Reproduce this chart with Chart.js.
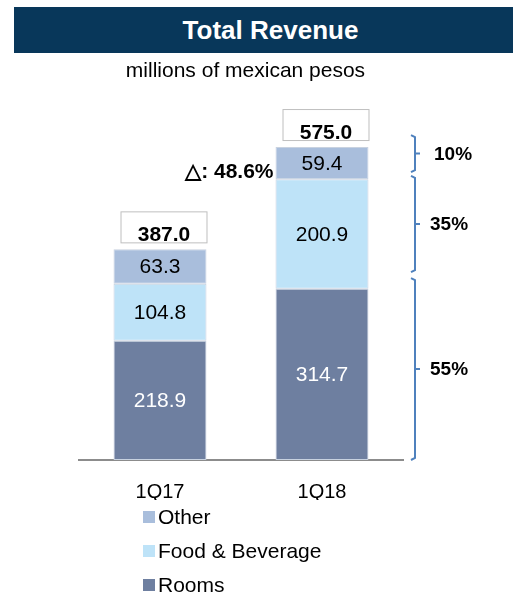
<!DOCTYPE html>
<html>
<head>
<meta charset="utf-8">
<script src="https://cdn.jsdelivr.net/npm/chart.js@4"></script>
<style>
  html, body { margin: 0; padding: 0; background: #fff; }
  body { width: 513px; height: 592px; position: relative; overflow: hidden; font-family: "Liberation Sans", Arial, sans-serif; }
  #banner { position: absolute; left: 14px; top: 7px; width: 499px; height: 46px; background: #08375A; color: #fff;
    font-weight: bold; font-size: 26px; line-height: 47px; text-align: center; padding-left: 14px; box-sizing: border-box; }
  #sub { position: absolute; left: 0; top: 58px; width: 513px; text-align: center; font-size: 21px; color: #000; box-sizing: border-box; padding-right: 22px; }
  #wrap { position: absolute; left: 0; top: 0; width: 513px; height: 592px; }
</style>
</head>
<body>
<div id="wrap"><canvas id="revChart" width="513" height="592"></canvas></div>
<div id="banner">Total Revenue</div>
<div id="sub">millions of mexican pesos</div>
<script>
const quarters = ['1Q17', '1Q18'];
const rooms = [218.9, 314.7];
const foodBev = [104.8, 200.9];
const other = [63.3, 59.4];
const totals = [387.0, 575.0];
const growthText = '\u25B3: 48.6%';
const mixLabels = ['10%', '35%', '55%'];
const mixRanges = [[529, 597], [345, 522], [0, 334]];

const FONT = '"Liberation Sans", Arial, sans-serif';

// labels inside segments, total boxes, growth note, mix brackets, legend
const extras = {
  id: 'extras',
  afterDatasetsDraw(chart) {
    const c = chart.ctx;
    const y = chart.scales.y;
    c.save();
    c.textAlign = 'center';
    c.textBaseline = 'middle';
    chart.data.datasets.forEach((ds, i) => {
      chart.getDatasetMeta(i).data.forEach((bar, j) => {
        c.font = '21px ' + FONT;
        c.fillStyle = ds.labelColor;
        c.fillText(ds.data[j].toFixed(1), bar.x, (bar.y + bar.base) / 2 + 1);
      });
    });
    // total boxes
    const meta = chart.getDatasetMeta(0);
    meta.data.forEach((bar, j) => {
      const top = y.getPixelForValue(totals[j]);
      const left = bar.x - bar.width / 2 + 7;
      c.strokeStyle = '#bfbfbf';
      c.lineWidth = 1;
      c.strokeRect(left + 0.5, top - 37.5, bar.width - 7, 31);
      c.font = 'bold 21px ' + FONT;
      c.fillStyle = '#000';
      c.textBaseline = 'alphabetic';
      c.fillText(totals[j].toFixed(1), bar.x + 4, top - 8);
      c.textBaseline = 'middle';
    });
    // growth note
    c.font = 'bold 21px ' + FONT;
    c.textAlign = 'right';
    c.fillStyle = '#000';
    c.fillText(growthText, meta.data[1].x - meta.data[1].width / 2 - 2, y.getPixelForValue(528));
    // brackets
    const bx = 415;
    c.strokeStyle = '#4F81BD';
    c.lineWidth = 2;
    mixRanges.forEach((r, k) => {
      const t = y.getPixelForValue(r[1]);
      const b = y.getPixelForValue(r[0]);
      const m = (t + b) / 2;
      c.beginPath();
      c.moveTo(bx - 4, t);
      c.lineTo(bx, t + 2);
      c.lineTo(bx, b - 2);
      c.lineTo(bx - 4, b);
      c.moveTo(bx, m);
      c.lineTo(bx + 5, m);
      c.stroke();
      c.font = 'bold 19px ' + FONT;
      c.textAlign = 'left';
      c.fillStyle = '#000';
      c.fillText(mixLabels[k], k === 0 ? 434 : 430, m + 1);
    });
    // legend, stacked top to bottom
    const order = [2, 1, 0];
    order.forEach((di, k) => {
      const ds = chart.data.datasets[di];
      const ly = 517 + k * 34;
      c.fillStyle = ds.backgroundColor;
      c.fillRect(143, ly - 6, 12, 12);
      c.font = '21px ' + FONT;
      c.fillStyle = '#000';
      c.textAlign = 'left';
      c.fillText(ds.label, 158, ly + 1);
    });
    c.restore();
  }
};

new Chart(document.getElementById('revChart'), {
  type: 'bar',
  data: {
    labels: quarters,
    datasets: [
      { label: 'Rooms', data: rooms, backgroundColor: '#6E7FA0', labelColor: '#ffffff' },
      { label: 'Food & Beverage', data: foodBev, backgroundColor: '#BEE3F8', labelColor: '#000000' },
      { label: 'Other', data: other, backgroundColor: '#A9BEDC', labelColor: '#000000' }
    ]
  },
  options: {
    responsive: false,
    animation: false,
    layout: { padding: { left: 79, right: 110, top: 79, bottom: 92 } },
    datasets: {
      bar: { categoryPercentage: 1, barPercentage: 0.574, borderColor: '#c8d2e0', borderWidth: 1, borderSkipped: false }
    },
    plugins: { legend: { display: false }, tooltip: { enabled: false } },
    scales: {
      x: {
        stacked: true,
        grid: { display: false },
        border: { color: '#8c8c8c', width: 2 },
        ticks: { color: '#000', font: { family: FONT, size: 20 }, padding: 12 },
        afterFit(s) { s.height = 40; }
      },
      y: { stacked: true, display: false, min: 0, max: 700 }
    }
  },
  plugins: [extras]
});
</script>
</body>
</html>
